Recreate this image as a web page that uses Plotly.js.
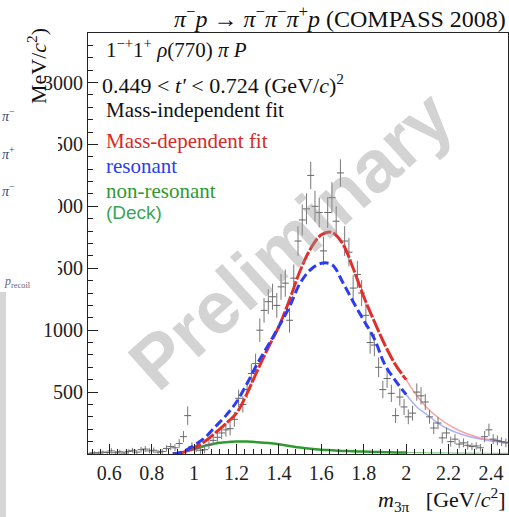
<!DOCTYPE html>
<html>
<head>
<meta charset="utf-8">
<script src="https://cdn.plot.ly/plotly-3.0.1.min.js"></script>
<style>html,body{margin:0;padding:0;background:#fff;overflow:hidden}</style>
</head>
<body>
<div id="chart" style="width:509px;height:517px"></div>
<script>
// Mass-independent fit (data points)
const miMass = [0.51,0.53,0.55,0.57,0.59,0.61,0.63,0.65,0.67,0.69,0.71,0.73,0.75,0.77,0.79,0.81,0.83,0.85,0.87,0.89,
  0.91,0.93,0.95,0.97,0.99,1.01,1.03,1.05,1.07,1.09,1.11,1.13,1.15,1.17,1.19,1.21,1.23,1.25,1.27,1.29,
  1.31,1.33,1.35,1.37,1.39,1.41,1.43,1.45,1.47,1.49,1.51,1.53,1.55,1.57,1.59,1.61,1.63,1.65,1.67,1.69,
  1.71,1.73,1.75,1.77,1.79,1.81,1.83,1.85,1.87,1.89,1.91,1.93,1.95,1.97,1.99,2.01,2.03,2.05,2.07,2.09,
  2.11,2.13,2.15,2.17,2.19,2.21,2.23,2.25,2.27,2.29,2.31,2.33,2.35,2.37,2.39,2.41,2.43,2.45,2.47];
const miIntensity = [5,10,8,15,12,25,10,18,8,20,30,15,35,40,25,30,15,20,45,60,
  50,85,140,310,60,45,30,35,75,110,135,170,195,205,280,450,400,520,650,730,
  1000,1160,1230,1270,1200,1350,1380,1080,1420,1720,1890,1980,2250,2000,1950,1640,1950,2070,1880,2270,
  1720,1630,1340,1450,1300,1120,900,880,700,520,610,490,310,460,380,300,330,500,470,420,
  300,210,250,130,170,100,120,80,90,70,60,65,50,140,195,120,110,100,90];
const miError = [12,12,12,14,14,22,14,16,14,18,20,18,22,24,20,22,18,20,25,28,
  28,35,45,75,35,30,28,30,35,40,45,50,55,55,60,70,65,70,80,80,
  95,100,100,105,100,105,110,100,110,120,125,125,110,125,120,115,125,125,120,110,
  120,115,105,110,105,95,90,90,80,70,75,70,60,70,65,60,60,70,70,65,
  55,50,50,45,45,40,40,35,35,35,30,30,30,45,50,40,40,35,35];

// Mass-dependent fit curves (fit range)
const fitMass = [0.90,0.95,1.00,1.05,1.10,1.15,1.20,1.25,1.30,1.35,1.40,1.45,1.50,1.55,1.60,1.65,1.70,1.75,1.80,1.85,1.90,1.95,2.00];
const totalFit = [0,15,50,100,170,245,330,490,680,860,1030,1245,1480,1660,1770,1790,1700,1500,1270,1070,880,720,600];
const resonant = [0,20,70,130,220,310,420,570,735,880,1030,1190,1380,1490,1540,1530,1390,1230,1080,930,720,590,480];
const nonResonant = [5,15,40,65,85,95,100,100,95,88,78,65,52,42,35,30,25,22,20,17,15,13,12];

// Extrapolation beyond the fit range
const extMass = [2.00,2.05,2.10,2.15,2.20,2.25,2.30,2.35,2.40,2.45,2.48];
const totalExt = [600,470,370,295,235,190,155,130,115,100,95];
const resonantExt = [480,380,315,250,200,165,140,120,105,95,90];
const nonResonantExt = [12,11,10,9,8,7,7,6,6,5,5];

const xTickVals = [0.6,0.8,1.0,1.2,1.4,1.6,1.8,2.0,2.2,2.4];
const xTickText = ['0.6','0.8','1','1.2','1.4','1.6','1.8','2','2.2','2.4'];
const yTickVals = [500,1000,1500,2000,2500,3000];
const yTickText = ['500','1000','1500','2000','2500','3000'];

const serif = 'Liberation Serif, Times New Roman, serif';
const RED = '#e0302c', BLUE = '#2b3cf2', GREEN = '#2f9a2f';

const traces = [
  {x: fitMass, y: nonResonant, mode:'lines', line:{color:GREEN, width:2.5, shape:'spline'}, hoverinfo:'skip'},
  {x: extMass, y: nonResonantExt, mode:'lines', line:{color:'rgba(60,160,60,0.6)', width:1.2, shape:'spline'}, hoverinfo:'skip'},
  {x: extMass, y: totalExt, mode:'lines', line:{color:'rgba(235,90,90,0.55)', width:1.5, shape:'spline'}, hoverinfo:'skip'},
  {x: extMass, y: resonantExt, mode:'lines', line:{color:'rgba(90,100,245,0.5)', width:1.5, shape:'spline'}, hoverinfo:'skip'},
  {x: miMass, y: miIntensity, mode:'markers', type:'scatter',
   marker:{symbol:'line-ew-open', size:5, color:'#666', line:{width:1, color:'#666'}},
   error_y:{type:'data', array: miError, visible:true, thickness:1, width:0, color:'#777'}, hoverinfo:'skip'},
  {x: fitMass, y: totalFit, mode:'lines', line:{color:RED, width:3, shape:'spline', dash:'14px,2px'}, hoverinfo:'skip'},
  {x: fitMass, y: resonant, mode:'lines', line:{color:BLUE, width:3, shape:'spline', dash:'9px,4px'}, hoverinfo:'skip'}
];

function px2x(p){ return (p-88)/420; }
function py2y(p){ return (454-p)/421; }

const ann = [];
// watermark
ann.push({text:'Preliminary', xref:'paper', yref:'paper', x:px2x(290), y:py2y(240), xanchor:'center', yanchor:'middle',
  showarrow:false, textangle:-42, font:{family:'Liberation Sans, Arial, sans-serif', size:74, color:'rgba(150,150,150,0.42)', weight:'bold'}});
// title
ann.push({text:'<i>π</i><sup>−</sup><i>p</i> → <i>π</i><sup>−</sup><i>π</i><sup>−</sup><i>π</i><sup>+</sup><i>p</i> (COMPASS 2008)',
  xref:'paper', yref:'paper', x:px2x(508), y:py2y(17), xanchor:'right', yanchor:'middle', showarrow:false,
  font:{family:serif, size:24, color:'#111'}});
// x axis title
ann.push({text:'<i>m</i><sub>3π</sub>&nbsp;&nbsp;&nbsp;[GeV/<i>c</i><sup>2</sup>]', xref:'paper', yref:'paper', x:px2x(508), y:py2y(500),
  xanchor:'right', yanchor:'middle', showarrow:false, font:{family:serif, size:22, color:'#111'}});
// y axis title (only the upper part is visible in the cropped original)
ann.push({text:'MeV/<i>c</i><sup>2</sup>)', xref:'paper', yref:'paper', x:px2x(37), y:py2y(106),
  xanchor:'center', yanchor:'bottom', textangle:-90, showarrow:false, font:{family:serif, size:22, color:'#111'}});
// in-plot labels
const lx = px2x(104);
ann.push({text:'1<sup>−+</sup>1<sup>+</sup> <i>ρ</i>(770) <i>π P</i>', xref:'paper', yref:'paper', x:lx, y:py2y(48), xanchor:'left', yanchor:'middle', showarrow:false, font:{family:serif, size:21, color:'#111'}});
ann.push({text:'0.449 < <i>t\'</i> < 0.724 (GeV/<i>c</i>)<sup>2</sup>', xref:'paper', yref:'paper', x:px2x(100), y:py2y(84), xanchor:'left', yanchor:'middle', showarrow:false, font:{family:serif, size:22, color:'#111'}});
ann.push({text:'Mass-independent fit', xref:'paper', yref:'paper', x:lx, y:py2y(110), xanchor:'left', yanchor:'middle', showarrow:false, font:{family:serif, size:21, color:'#111'}});
ann.push({text:'Mass-dependent fit', xref:'paper', yref:'paper', x:lx, y:py2y(141), xanchor:'left', yanchor:'middle', showarrow:false, font:{family:serif, size:21, color:'#d62a26'}});
ann.push({text:'resonant', xref:'paper', yref:'paper', x:lx, y:py2y(166), xanchor:'left', yanchor:'middle', showarrow:false, font:{family:serif, size:21, color:BLUE}});
ann.push({text:'non-resonant', xref:'paper', yref:'paper', x:lx, y:py2y(191), xanchor:'left', yanchor:'middle', showarrow:false, font:{family:serif, size:21, color:GREEN}});
ann.push({text:'(Deck)', xref:'paper', yref:'paper', x:lx, y:py2y(212), xanchor:'left', yanchor:'middle', showarrow:false, font:{family:'Liberation Sans, Arial, sans-serif', size:19, color:'#3aa65a'}});
// cut-off neighbouring panel on the left
ann.push({text:'<i>π</i><sup>−</sup>', xref:'paper', yref:'paper', x:px2x(0), y:py2y(115), xanchor:'left', yanchor:'middle', showarrow:false, font:{family:serif, size:14, color:'#2c4a7a'}});
ann.push({text:'<i>π</i><sup>+</sup>', xref:'paper', yref:'paper', x:px2x(0), y:py2y(153), xanchor:'left', yanchor:'middle', showarrow:false, font:{family:serif, size:14, color:'#2c4a7a'}});
ann.push({text:'<i>π</i><sup>−</sup>', xref:'paper', yref:'paper', x:px2x(0), y:py2y(190), xanchor:'left', yanchor:'middle', showarrow:false, font:{family:serif, size:14, color:'#2c4a7a'}});
ann.push({text:'<i>p</i><sub>recoil</sub>', xref:'paper', yref:'paper', x:px2x(2), y:py2y(282), xanchor:'left', yanchor:'middle', showarrow:false, font:{family:serif, size:12, color:'#667'}});

const layout = {
  width:509, height:517,
  margin:{l:88, r:1, t:33, b:63, pad:0},
  paper_bgcolor:'#fff', plot_bgcolor:'#fff',
  showlegend:false,
  xaxis:{range:[0.5,2.48], tickmode:'array', tickvals:xTickVals, ticktext:xTickText,
    ticks:'inside', ticklen:10, tickwidth:1, tickcolor:'#222', ticklabelstandoff:1,
    minor:{tickmode:'linear', tick0:0, dtick:0.04, ticks:'inside', ticklen:5, tickcolor:'#222', showgrid:false},
    showline:true, linecolor:'#222', linewidth:1, mirror:true, showgrid:false, zeroline:false,
    tickfont:{family:serif, size:20, color:'#222'}},
  yaxis:{range:[0,3400], tickmode:'array', tickvals:yTickVals, ticktext:yTickText,
    ticks:'inside', ticklen:10, tickwidth:1, tickcolor:'#222',
    minor:{tickmode:'linear', tick0:0, dtick:100, ticks:'inside', ticklen:5, tickcolor:'#222', showgrid:false},
    showline:true, linecolor:'#222', linewidth:1, mirror:true, showgrid:false, zeroline:false,
    tickfont:{family:serif, size:20, color:'#222'}},
  annotations: ann,
  shapes:[
    {type:'rect', xref:'paper', yref:'paper', x0:px2x(0), x1:px2x(58), y0:py2y(290), y1:py2y(93), fillcolor:'#ffffff', line:{width:0}, layer:'above'},
    {type:'rect', xref:'paper', yref:'paper', x0:px2x(0), x1:px2x(6), y0:py2y(520), y1:py2y(292), fillcolor:'#d6d6d6', line:{width:0}, layer:'above'}
  ]
};

Plotly.newPlot('chart', traces, layout, {displayModeBar:false, staticPlot:true});
</script>
</body>
</html>
